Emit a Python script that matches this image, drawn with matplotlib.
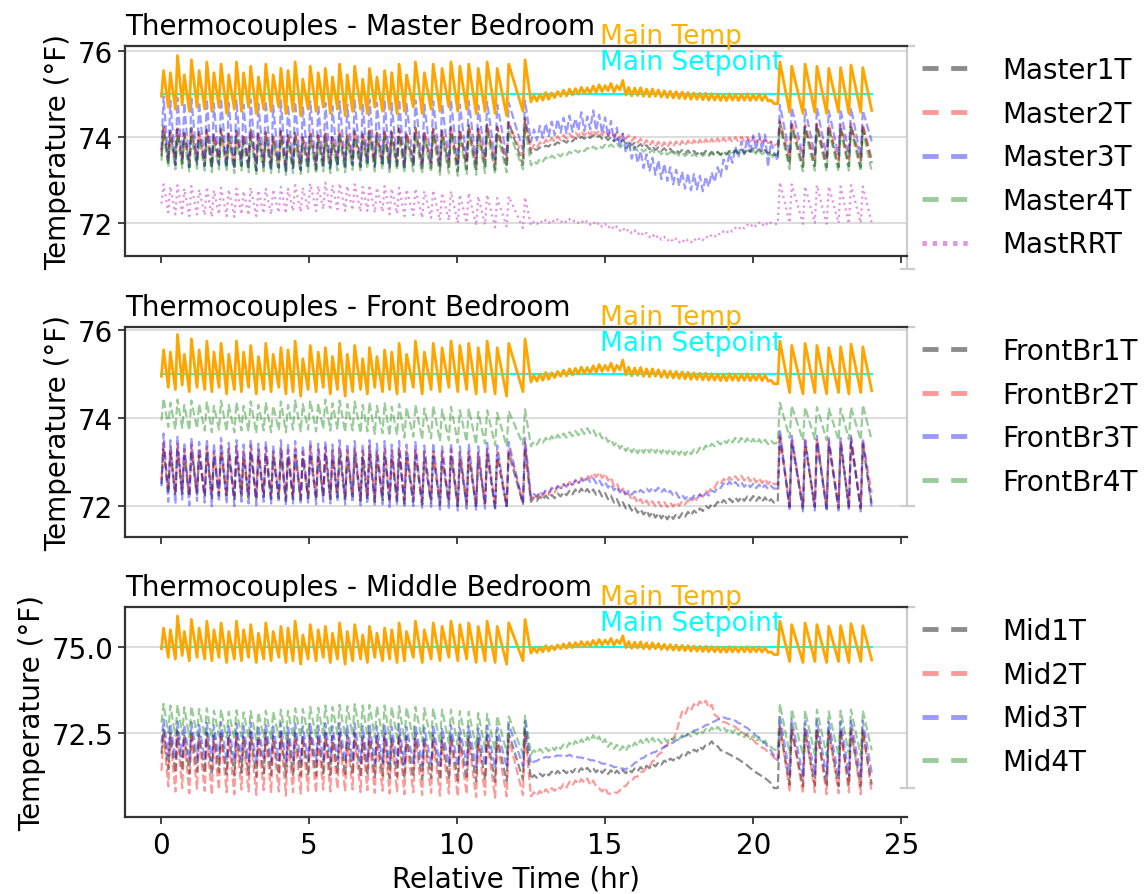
import numpy as np
import matplotlib
matplotlib.use("Agg")
import matplotlib.pyplot as plt
from matplotlib.lines import Line2D
from matplotlib.transforms import blended_transform_factory

# ---------------------------------------------------------------------------
# Sampling clock
# ---------------------------------------------------------------------------
# Peak times of the thermostat cycles in the first cycling period (hr)
a_peak_hours = [0.10, 0.33, 0.57, 0.80, 1.04, 1.30, 1.56, 1.80, 2.04, 2.30,
                2.56, 2.80, 3.04, 3.30, 3.55, 3.80, 4.06, 4.30, 4.54, 4.80,
                5.05, 5.32, 5.56, 5.80, 6.04, 6.30, 6.55, 6.82, 7.05, 7.30,
                7.56, 7.80, 8.05, 8.30, 8.60, 8.90, 9.20, 9.50, 9.80, 10.10,
                10.40, 10.72, 11.02, 11.36, 11.75, 12.30]
# Steady period, logged every 0.1 hr
b_hours = np.round(np.arange(12.5, 20.75, 0.1), 2)
# Peak times of the evening cycles (hr) and end of log
c_peak_hours = [20.90, 21.30, 21.75, 22.15, 22.55, 22.95, 23.30, 23.70]
c_end_hour = 24.0
RISE_HR = 0.07  # time from cycle trough to cycle peak

setpoint_f = 75.0

# ---------------------------------------------------------------------------
# Main thermostat temperature (°F)
# ---------------------------------------------------------------------------
main_a_hi = [75.55, 75.50, 75.90, 75.45, 75.80, 75.55, 75.75, 75.50, 75.70, 75.45,
             75.75, 75.50, 75.65, 75.40, 75.70, 75.45, 75.60, 75.55, 75.75, 75.35,
             75.65, 75.50, 75.60, 75.40, 75.70, 75.45, 75.65, 75.35, 75.60, 75.40,
             75.55, 75.50, 75.70, 75.45, 75.75, 75.50, 75.70, 75.60, 75.75, 75.65,
             75.70, 75.60, 75.75, 75.60, 75.70, 75.80]
main_a_lo = [74.95, 74.70, 74.65, 74.75, 74.60, 74.70, 74.65, 74.60, 74.70, 74.55,
             74.65, 74.60, 74.70, 74.55, 74.65, 74.60, 74.70, 74.55, 74.60, 74.50,
             74.65, 74.60, 74.70, 74.55, 74.65, 74.50, 74.60, 74.65, 74.55, 74.70,
             74.60, 74.65, 74.55, 74.60, 74.70, 74.55, 74.65, 74.60, 74.70, 74.60,
             74.65, 74.55, 74.60, 74.55, 74.50, 74.60]
main_b = [74.82, 74.97, 74.84, 75.00, 74.86, 75.04, 74.88, 75.03, 74.92, 75.06,
          74.95, 75.09, 74.96, 75.12, 74.98, 75.13, 75.00, 75.16, 75.01, 75.15,
          75.02, 75.19, 75.04, 75.22, 75.06, 75.20, 75.08, 75.25, 75.05, 75.20,
          75.10, 75.32, 74.98, 75.16, 74.96, 75.14, 74.97, 75.15, 74.95, 75.12,
          74.94, 75.12, 74.95, 75.10, 74.93, 75.08, 74.92, 75.07, 74.91, 75.06,
          74.90, 75.05, 74.89, 75.04, 74.88, 75.03, 74.88, 75.02, 74.87, 75.02,
          74.86, 75.01, 74.86, 75.00, 74.85, 75.00, 74.85, 75.01, 74.86, 75.00,
          74.85, 75.00, 74.86, 75.01, 74.85, 74.99, 74.86, 75.00, 74.85, 74.98,
          74.84, 74.86, 74.78]
main_c_lo = [74.78, 74.58, 74.55, 74.58, 74.55, 74.58, 74.55, 74.58, 74.62]
main_c_hi = [75.75, 75.65, 75.70, 75.65, 75.60, 75.62, 75.68, 75.62]

# ---------------------------------------------------------------------------
# Master bedroom thermocouples (°F)
# ---------------------------------------------------------------------------
master1_a_hi = [74.25, 74.15, 74.20, 74.10, 74.22, 74.12, 74.18, 74.08, 74.20, 74.10,
                74.15, 74.05, 74.18, 74.08, 74.12, 74.02, 74.15, 74.05, 74.10, 74.00,
                74.12, 74.04, 74.08, 74.00, 74.12, 74.05, 74.15, 74.08, 74.18, 74.10,
                74.15, 74.12, 74.20, 74.10, 74.22, 74.12, 74.20, 74.15, 74.25, 74.18,
                74.28, 74.20, 74.30, 74.25, 74.35, 74.45]
master1_a_lo = [73.55, 73.40, 73.35, 73.38, 73.30, 73.36, 73.32, 73.28, 73.35, 73.30,
                73.25, 73.32, 73.28, 73.22, 73.30, 73.25, 73.28, 73.20, 73.26, 73.22,
                73.28, 73.24, 73.30, 73.26, 73.32, 73.28, 73.34, 73.30, 73.36, 73.30,
                73.34, 73.28, 73.32, 73.26, 73.30, 73.24, 73.28, 73.22, 73.26, 73.20,
                73.25, 73.22, 73.28, 73.24, 73.30, 73.35]
master1_b = [73.62, 73.72, 73.70, 73.76, 73.75, 73.80, 73.78, 73.86, 73.82, 73.88,
             73.84, 73.92, 73.87, 73.95, 73.90, 73.98, 73.93, 74.01, 73.96, 74.03,
             73.98, 74.05, 73.98, 74.04, 73.96, 74.02, 73.93, 74.00, 73.90, 73.96,
             73.88, 73.93, 73.85, 73.90, 73.81, 73.87, 73.78, 73.84, 73.75, 73.81,
             73.72, 73.79, 73.70, 73.76, 73.68, 73.74, 73.66, 73.73, 73.64, 73.71,
             73.63, 73.70, 73.62, 73.69, 73.61, 73.68, 73.60, 73.67, 73.60, 73.68,
             73.59, 73.66, 73.58, 73.66, 73.59, 73.67, 73.60, 73.68, 73.62, 73.70,
             73.63, 73.71, 73.64, 73.73, 73.66, 73.74, 73.65, 73.72, 73.64, 73.70,
             73.62, 73.66, 73.58]
master1_c_lo = [73.60, 73.35, 73.30, 73.32, 73.30, 73.30, 73.32, 73.30, 73.40]
master1_c_hi = [74.35, 74.30, 74.25, 74.28, 74.25, 74.25, 74.28, 74.25]

master2_a_hi = [74.20, 74.12, 74.18, 74.08, 74.15, 74.10, 74.16, 74.05, 74.14, 74.08,
                74.12, 74.04, 74.15, 74.06, 74.10, 74.02, 74.12, 74.05, 74.08, 74.00,
                74.10, 74.04, 74.08, 74.02, 74.12, 74.06, 74.14, 74.08, 74.16, 74.10,
                74.14, 74.10, 74.18, 74.10, 74.20, 74.12, 74.18, 74.14, 74.22, 74.16,
                74.25, 74.18, 74.28, 74.22, 74.32, 74.40]
master2_a_lo = [73.65, 73.52, 73.48, 73.50, 73.45, 73.50, 73.46, 73.42, 73.48, 73.44,
                73.40, 73.46, 73.42, 73.38, 73.44, 73.40, 73.42, 73.36, 73.40, 73.38,
                73.42, 73.38, 73.44, 73.40, 73.46, 73.42, 73.48, 73.44, 73.50, 73.44,
                73.48, 73.42, 73.46, 73.40, 73.44, 73.38, 73.42, 73.36, 73.40, 73.35,
                73.40, 73.38, 73.42, 73.40, 73.45, 73.55]
master2_b = [73.70, 73.82, 73.75, 73.88, 73.81, 73.94, 73.86, 73.98, 73.89, 74.02,
             73.93, 74.05, 73.96, 74.08, 73.99, 74.11, 74.02, 74.14, 74.03, 74.15,
             74.05, 74.17, 74.06, 74.16, 74.04, 74.15, 74.03, 74.13, 74.01, 74.11,
             73.98, 74.08, 73.95, 74.04, 73.91, 74.00, 73.87, 73.96, 73.83, 73.93,
             73.80, 73.91, 73.78, 73.89, 73.77, 73.88, 73.76, 73.89, 73.78, 73.90,
             73.79, 73.91, 73.80, 73.92, 73.81, 73.93, 73.82, 73.94, 73.83, 73.95,
             73.84, 73.96, 73.85, 73.97, 73.86, 73.98, 73.87, 73.99, 73.88, 74.00,
             73.89, 74.01, 73.90, 74.00, 73.89, 73.99, 73.88, 73.98, 73.87, 73.97,
             73.86, 73.88, 73.80]
master2_c_lo = [73.85, 73.50, 73.45, 73.48, 73.45, 73.45, 73.48, 73.45, 73.50]
master2_c_hi = [74.40, 74.35, 74.30, 74.32, 74.30, 74.30, 74.32, 74.30]

master3_a_hi = [74.95, 74.85, 74.92, 74.80, 74.90, 74.82, 74.88, 74.78, 74.90, 74.80,
                74.86, 74.76, 74.88, 74.78, 74.84, 74.74, 74.86, 74.76, 74.82, 74.72,
                74.84, 74.76, 74.80, 74.72, 74.84, 74.76, 74.86, 74.78, 74.88, 74.80,
                74.86, 74.80, 74.88, 74.78, 74.86, 74.76, 74.84, 74.78, 74.86, 74.76,
                74.84, 74.74, 74.82, 74.76, 74.80, 74.85]
master3_a_lo = [73.70, 73.45, 73.35, 73.42, 73.30, 73.40, 73.34, 73.28, 73.38, 73.30,
                73.26, 73.36, 73.30, 73.22, 73.34, 73.26, 73.30, 73.20, 73.28, 73.24,
                73.32, 73.26, 73.34, 73.28, 73.36, 73.30, 73.38, 73.32, 73.40, 73.34,
                73.38, 73.32, 73.36, 73.30, 73.40, 73.34, 73.42, 73.36, 73.44, 73.38,
                73.46, 73.42, 73.50, 73.48, 73.55, 73.70]
master3_b = [73.88, 74.18, 73.92, 74.26, 73.98, 74.32, 74.02, 74.36, 74.05, 74.42,
             74.10, 74.45, 74.08, 74.50, 74.12, 74.44, 74.15, 74.58, 74.14, 74.48,
             74.18, 74.62, 74.15, 74.52, 74.08, 74.46, 74.00, 74.38, 73.92, 74.22,
             73.76, 74.08, 73.64, 73.92, 73.50, 73.78, 73.40, 73.68, 73.28, 73.60,
             73.20, 73.52, 73.12, 73.46, 73.02, 73.38, 72.98, 73.30, 72.90, 73.24,
             72.86, 73.20, 72.80, 73.16, 72.76, 73.14, 72.78, 73.10, 72.74, 73.08,
             72.84, 73.18, 72.95, 73.30, 73.08, 73.48, 73.25, 73.62, 73.40, 73.78,
             73.52, 73.90, 73.60, 73.98, 73.66, 74.04, 73.70, 74.08, 73.68, 74.06,
             73.30, 73.90, 73.65]
master3_c_lo = [73.45, 73.60, 73.55, 73.60, 73.55, 73.58, 73.60, 73.55, 73.90]
master3_c_hi = [74.75, 74.70, 74.65, 74.68, 74.62, 74.65, 74.68, 74.62]

master4_a_hi = [74.05, 73.98, 74.02, 73.92, 74.00, 73.94, 73.98, 73.90, 74.00, 73.92,
                73.96, 73.88, 73.98, 73.90, 73.94, 73.86, 73.96, 73.88, 73.92, 73.84,
                73.94, 73.88, 73.92, 73.86, 73.96, 73.90, 73.98, 73.92, 74.00, 73.94,
                73.98, 73.94, 74.02, 73.94, 74.04, 73.96, 74.04, 73.98, 74.08, 74.00,
                74.10, 74.02, 74.12, 74.06, 74.15, 74.25]
master4_a_lo = [73.45, 73.30, 73.25, 73.28, 73.20, 73.26, 73.22, 73.18, 73.25, 73.20,
                73.16, 73.22, 73.18, 73.14, 73.20, 73.16, 73.18, 73.12, 73.16, 73.14,
                73.18, 73.14, 73.20, 73.16, 73.22, 73.18, 73.24, 73.20, 73.26, 73.20,
                73.24, 73.18, 73.22, 73.16, 73.20, 73.14, 73.18, 73.12, 73.16, 73.10,
                73.14, 73.12, 73.16, 73.14, 73.18, 73.25]
master4_b = [73.34, 73.44, 73.38, 73.49, 73.43, 73.53, 73.47, 73.57, 73.51, 73.60,
             73.55, 73.63, 73.58, 73.66, 73.61, 73.69, 73.64, 73.72, 73.67, 73.75,
             73.70, 73.78, 73.72, 73.80, 73.74, 73.82, 73.76, 73.83, 73.77, 73.84,
             73.76, 73.82, 73.74, 73.80, 73.71, 73.77, 73.68, 73.74, 73.66, 73.72,
             73.64, 73.70, 73.62, 73.68, 73.60, 73.67, 73.59, 73.65, 73.58, 73.64,
             73.57, 73.63, 73.56, 73.62, 73.55, 73.61, 73.55, 73.62, 73.56, 73.62,
             73.56, 73.63, 73.57, 73.64, 73.58, 73.65, 73.59, 73.66, 73.60, 73.67,
             73.61, 73.68, 73.62, 73.69, 73.62, 73.69, 73.61, 73.68, 73.60, 73.66,
             73.58, 73.59, 73.52]
master4_c_lo = [73.55, 73.25, 73.20, 73.22, 73.20, 73.20, 73.22, 73.20, 73.20]
master4_c_hi = [74.25, 74.20, 74.15, 74.18, 74.15, 74.15, 74.18, 74.15]

mastrr_a_hi = [72.90, 72.85, 72.88, 72.80, 72.86, 72.78, 72.84, 72.76, 72.82, 72.78,
               72.80, 72.74, 72.82, 72.76, 72.80, 72.78, 72.84, 72.80, 72.88, 72.82,
               72.92, 72.86, 72.94, 72.88, 72.92, 72.86, 72.90, 72.84, 72.88, 72.82,
               72.86, 72.80, 72.82, 72.78, 72.80, 72.74, 72.76, 72.70, 72.74, 72.66,
               72.70, 72.62, 72.66, 72.58, 72.62, 72.60]
mastrr_a_lo = [72.45, 72.25, 72.20, 72.22, 72.16, 72.20, 72.18, 72.14, 72.20, 72.16,
               72.14, 72.20, 72.18, 72.16, 72.22, 72.20, 72.24, 72.22, 72.28, 72.26,
               72.30, 72.28, 72.32, 72.30, 72.32, 72.28, 72.30, 72.26, 72.28, 72.24,
               72.26, 72.20, 72.22, 72.16, 72.18, 72.12, 72.12, 72.06, 72.06, 72.00,
               72.00, 71.94, 71.96, 71.90, 71.92, 71.88]
mastrr_b = [71.94, 72.03, 71.97, 72.06, 71.99, 72.07, 72.00, 72.08, 72.01, 72.09,
            72.02, 72.08, 72.01, 72.09, 72.02, 72.07, 72.00, 72.06, 71.98, 72.05,
            71.96, 72.03, 71.94, 72.01, 71.91, 71.98, 71.88, 71.95, 71.85, 71.92,
            71.82, 71.89, 71.79, 71.86, 71.76, 71.83, 71.73, 71.80, 71.70, 71.77,
            71.67, 71.74, 71.64, 71.71, 71.61, 71.68, 71.58, 71.65, 71.56, 71.64,
            71.55, 71.62, 71.54, 71.62, 71.55, 71.64, 71.57, 71.66, 71.60, 71.69,
            71.64, 71.73, 71.68, 71.77, 71.72, 71.81, 71.76, 71.85, 71.80, 71.89,
            71.84, 71.93, 71.87, 71.96, 71.90, 71.99, 71.92, 72.01, 71.93, 72.02,
            71.94, 72.01, 71.97]
mastrr_c_lo = [71.98, 72.00, 71.98, 72.00, 71.98, 72.00, 71.98, 72.00, 72.00]
mastrr_c_hi = [72.95, 72.90, 72.85, 72.88, 72.85, 72.85, 72.88, 72.85]

# ---------------------------------------------------------------------------
# Front bedroom thermocouples (°F)
# ---------------------------------------------------------------------------
front1_a_hi = [73.30, 73.20, 73.25, 73.15, 73.22, 73.14, 73.20, 73.12, 73.22, 73.14,
               73.18, 73.10, 73.20, 73.12, 73.16, 73.10, 73.18, 73.12, 73.16, 73.08,
               73.18, 73.12, 73.16, 73.10, 73.18, 73.12, 73.16, 73.10, 73.18, 73.12,
               73.16, 73.10, 73.18, 73.10, 73.16, 73.08, 73.14, 73.08, 73.14, 73.06,
               73.12, 73.08, 73.16, 73.10, 73.20, 73.30]
front1_a_lo = [72.50, 72.30, 72.25, 72.28, 72.22, 72.26, 72.22, 72.18, 72.24, 72.20,
               72.16, 72.22, 72.18, 72.14, 72.20, 72.16, 72.18, 72.12, 72.16, 72.14,
               72.18, 72.14, 72.20, 72.16, 72.20, 72.14, 72.18, 72.12, 72.16, 72.10,
               72.14, 72.08, 72.12, 72.06, 72.10, 72.04, 72.08, 72.02, 72.06, 72.00,
               72.04, 71.98, 72.02, 71.96, 72.00, 72.05]
front1_b = [72.10, 72.19, 72.12, 72.22, 72.14, 72.24, 72.16, 72.26, 72.18, 72.29,
            72.22, 72.32, 72.25, 72.35, 72.27, 72.38, 72.29, 72.40, 72.30, 72.39,
            72.29, 72.38, 72.26, 72.35, 72.22, 72.30, 72.16, 72.24, 72.08, 72.16,
            72.01, 72.09, 71.95, 72.03, 71.90, 71.98, 71.85, 71.93, 71.81, 71.90,
            71.77, 71.87, 71.74, 71.84, 71.72, 71.82, 71.70, 71.81, 71.71, 71.82,
            71.73, 71.84, 71.76, 71.87, 71.79, 71.90, 71.84, 71.95, 71.89, 72.00,
            71.95, 72.05, 72.00, 72.10, 72.04, 72.14, 72.07, 72.17, 72.09, 72.19,
            72.11, 72.21, 72.12, 72.22, 72.13, 72.23, 72.12, 72.21, 72.10, 72.20,
            72.09, 72.16, 72.08]
front1_c_lo = [72.10, 71.98, 71.95, 71.98, 71.95, 71.96, 71.98, 71.95, 72.05]
front1_c_hi = [73.55, 73.45, 73.40, 73.45, 73.40, 73.40, 73.45, 73.40]

front2_a_hi = [73.45, 73.35, 73.42, 73.30, 73.40, 73.32, 73.38, 73.28, 73.40, 73.30,
               73.36, 73.26, 73.38, 73.28, 73.34, 73.24, 73.36, 73.28, 73.34, 73.24,
               73.36, 73.28, 73.34, 73.26, 73.36, 73.28, 73.34, 73.26, 73.36, 73.28,
               73.34, 73.26, 73.34, 73.26, 73.32, 73.24, 73.30, 73.24, 73.30, 73.22,
               73.28, 73.22, 73.30, 73.24, 73.32, 73.45]
front2_a_lo = [72.60, 72.40, 72.32, 72.36, 72.28, 72.34, 72.30, 72.26, 72.32, 72.28,
               72.24, 72.30, 72.26, 72.22, 72.28, 72.24, 72.26, 72.20, 72.24, 72.22,
               72.26, 72.22, 72.28, 72.24, 72.28, 72.22, 72.26, 72.20, 72.24, 72.18,
               72.22, 72.16, 72.20, 72.14, 72.18, 72.12, 72.16, 72.10, 72.12, 72.06,
               72.10, 72.04, 72.06, 72.02, 72.04, 72.10]
front2_b = [72.16, 72.27, 72.19, 72.31, 72.22, 72.35, 72.26, 72.39, 72.31, 72.44,
            72.38, 72.50, 72.43, 72.55, 72.48, 72.60, 72.53, 72.65, 72.58, 72.70,
            72.63, 72.76, 72.66, 72.77, 72.64, 72.74, 72.58, 72.66, 72.46, 72.52,
            72.33, 72.40, 72.22, 72.29, 72.13, 72.21, 72.07, 72.16, 72.03, 72.13,
            72.01, 72.11, 72.00, 72.10, 71.99, 72.09, 71.98, 72.08, 71.99, 72.09,
            72.01, 72.11, 72.04, 72.14, 72.08, 72.19, 72.14, 72.26, 72.21, 72.34,
            72.31, 72.44, 72.42, 72.55, 72.50, 72.62, 72.55, 72.66, 72.58, 72.68,
            72.59, 72.69, 72.58, 72.68, 72.56, 72.66, 72.54, 72.64, 72.52, 72.62,
            72.50, 72.58, 72.50]
front2_c_lo = [72.50, 72.00, 71.98, 72.00, 71.98, 72.00, 72.00, 71.98, 72.30]
front2_c_hi = [73.65, 73.55, 73.50, 73.55, 73.50, 73.50, 73.55, 73.50]

front3_a_hi = [73.65, 73.50, 73.58, 73.45, 73.55, 73.46, 73.52, 73.42, 73.55, 73.44,
               73.50, 73.40, 73.52, 73.42, 73.48, 73.38, 73.50, 73.42, 73.48, 73.38,
               73.50, 73.42, 73.48, 73.40, 73.50, 73.42, 73.48, 73.40, 73.50, 73.42,
               73.48, 73.40, 73.48, 73.40, 73.46, 73.38, 73.44, 73.38, 73.44, 73.36,
               73.42, 73.36, 73.44, 73.38, 73.46, 73.55]
front3_a_lo = [72.45, 72.10, 72.05, 72.15, 72.02, 72.12, 72.08, 72.00, 72.10, 72.05,
               72.00, 72.10, 72.06, 72.02, 72.10, 72.06, 72.08, 72.02, 72.06, 72.04,
               72.08, 72.04, 72.10, 72.06, 72.10, 72.04, 72.08, 72.02, 72.06, 72.00,
               72.04, 71.98, 72.02, 71.96, 72.00, 71.94, 71.98, 71.92, 71.96, 71.90,
               71.94, 71.90, 71.94, 71.90, 71.95, 72.05]
front3_b = [72.18, 72.28, 72.22, 72.33, 72.27, 72.37, 72.31, 72.42, 72.36, 72.46,
            72.41, 72.50, 72.44, 72.54, 72.48, 72.58, 72.51, 72.61, 72.54, 72.64,
            72.55, 72.64, 72.52, 72.60, 72.47, 72.55, 72.42, 72.50, 72.36, 72.44,
            72.31, 72.39, 72.27, 72.35, 72.26, 72.34, 72.28, 72.37, 72.31, 72.40,
            72.33, 72.42, 72.34, 72.42, 72.32, 72.39, 72.28, 72.35, 72.24, 72.31,
            72.19, 72.26, 72.16, 72.24, 72.15, 72.24, 72.17, 72.27, 72.20, 72.30,
            72.24, 72.35, 72.32, 72.43, 72.41, 72.52, 72.46, 72.56, 72.47, 72.55,
            72.46, 72.54, 72.44, 72.52, 72.43, 72.51, 72.41, 72.49, 72.40, 72.48,
            72.39, 72.46, 72.40]
front3_c_lo = [72.40, 71.90, 71.88, 71.90, 71.88, 71.90, 71.90, 71.88, 71.95]
front3_c_hi = [73.75, 73.60, 73.55, 73.60, 73.55, 73.55, 73.60, 73.55]

front4_a_hi = [74.45, 74.35, 74.42, 74.30, 74.40, 74.32, 74.38, 74.28, 74.40, 74.30,
               74.36, 74.28, 74.38, 74.30, 74.36, 74.28, 74.38, 74.30, 74.40, 74.32,
               74.40, 74.34, 74.42, 74.34, 74.40, 74.32, 74.38, 74.30, 74.36, 74.28,
               74.34, 74.26, 74.32, 74.24, 74.30, 74.22, 74.28, 74.20, 74.26, 74.18,
               74.22, 74.14, 74.18, 74.12, 74.16, 74.20]
front4_a_lo = [73.95, 73.80, 73.74, 73.78, 73.72, 73.76, 73.72, 73.68, 73.74, 73.70,
               73.68, 73.72, 73.70, 73.66, 73.72, 73.68, 73.72, 73.68, 73.74, 73.70,
               73.74, 73.70, 73.76, 73.72, 73.74, 73.68, 73.72, 73.66, 73.70, 73.64,
               73.66, 73.60, 73.62, 73.56, 73.58, 73.52, 73.54, 73.48, 73.50, 73.44,
               73.46, 73.40, 73.42, 73.38, 73.36, 73.40]
front4_b = [73.36, 73.47, 73.40, 73.52, 73.44, 73.55, 73.47, 73.59, 73.50, 73.62,
            73.54, 73.65, 73.56, 73.68, 73.59, 73.71, 73.61, 73.75, 73.64, 73.77,
            73.66, 73.74, 73.60, 73.68, 73.54, 73.60, 73.46, 73.52, 73.38, 73.45,
            73.31, 73.39, 73.25, 73.35, 73.22, 73.33, 73.20, 73.32, 73.21, 73.33,
            73.22, 73.33, 73.21, 73.32, 73.20, 73.31, 73.19, 73.30, 73.18, 73.29,
            73.17, 73.28, 73.16, 73.27, 73.18, 73.29, 73.21, 73.33, 73.26, 73.38,
            73.31, 73.42, 73.36, 73.47, 73.40, 73.50, 73.43, 73.53, 73.45, 73.55,
            73.45, 73.55, 73.44, 73.54, 73.43, 73.53, 73.42, 73.52, 73.42, 73.51,
            73.41, 73.49, 73.42]
front4_c_lo = [73.45, 73.55, 73.50, 73.52, 73.50, 73.50, 73.52, 73.50, 73.50]
front4_c_hi = [74.35, 74.28, 74.25, 74.25, 74.22, 74.22, 74.25, 74.30]

# ---------------------------------------------------------------------------
# Middle bedroom thermocouples (°F)
# ---------------------------------------------------------------------------
mid1_a_hi = [72.60, 72.50, 72.56, 72.46, 72.54, 72.46, 72.52, 72.44, 72.54, 72.46,
             72.50, 72.42, 72.52, 72.44, 72.50, 72.42, 72.52, 72.44, 72.50, 72.42,
             72.52, 72.44, 72.50, 72.42, 72.52, 72.44, 72.50, 72.42, 72.50, 72.42,
             72.48, 72.40, 72.48, 72.40, 72.46, 72.38, 72.44, 72.38, 72.44, 72.36,
             72.42, 72.36, 72.44, 72.38, 72.50, 72.60]
mid1_a_lo = [71.90, 71.45, 71.35, 71.40, 71.32, 71.38, 71.34, 71.28, 71.36, 71.30,
             71.26, 71.34, 71.30, 71.24, 71.32, 71.28, 71.30, 71.24, 71.28, 71.26,
             71.30, 71.26, 71.32, 71.28, 71.32, 71.26, 71.30, 71.24, 71.28, 71.22,
             71.26, 71.20, 71.24, 71.18, 71.22, 71.16, 71.20, 71.14, 71.18, 71.12,
             71.16, 71.10, 71.14, 71.08, 71.10, 71.15]
mid1_b = [71.16, 71.28, 71.20, 71.32, 71.24, 71.35, 71.27, 71.38, 71.29, 71.40,
          71.31, 71.42, 71.33, 71.44, 71.35, 71.46, 71.37, 71.48, 71.39, 71.49,
          71.38, 71.48, 71.36, 71.46, 71.34, 71.44, 71.31, 71.42, 71.30, 71.41,
          71.31, 71.42, 71.33, 71.44, 71.36, 71.47, 71.39, 71.51, 71.43, 71.55,
          71.48, 71.60, 71.53, 71.65, 71.58, 71.70, 71.64, 71.76, 71.70, 71.82,
          71.76, 71.88, 71.82, 71.95, 71.90, 72.02, 71.96, 72.10, 72.03, 72.17,
          72.16, 72.26, 72.13, 72.12, 72.00, 71.98, 71.92, 71.88, 71.83, 71.78,
          71.74, 71.68, 71.62, 71.56, 71.48, 71.42, 71.35, 71.30, 71.24, 71.19,
          71.12, 71.04, 70.90]
mid1_c_lo = [70.90, 71.00, 70.95, 70.98, 70.95, 70.95, 70.98, 70.95, 71.00]
mid1_c_hi = [72.65, 72.60, 72.55, 72.58, 72.55, 72.55, 72.58, 72.55]

mid2_a_hi = [72.45, 72.38, 72.42, 72.34, 72.40, 72.34, 72.38, 72.30, 72.40, 72.32,
             72.36, 72.28, 72.38, 72.30, 72.36, 72.28, 72.38, 72.30, 72.36, 72.28,
             72.38, 72.30, 72.36, 72.28, 72.38, 72.30, 72.36, 72.28, 72.36, 72.28,
             72.34, 72.26, 72.34, 72.26, 72.32, 72.24, 72.30, 72.24, 72.30, 72.22,
             72.28, 72.22, 72.30, 72.24, 72.36, 72.50]
mid2_a_lo = [71.40, 70.95, 70.80, 70.90, 70.75, 70.88, 70.82, 70.70, 70.85, 70.78,
             70.72, 70.86, 70.80, 70.70, 70.84, 70.76, 70.80, 70.68, 70.78, 70.74,
             70.82, 70.76, 70.86, 70.80, 70.88, 70.80, 70.86, 70.78, 70.84, 70.76,
             70.82, 70.74, 70.80, 70.72, 70.78, 70.70, 70.76, 70.68, 70.74, 70.66,
             70.72, 70.64, 70.70, 70.62, 70.66, 70.70]
mid2_b = [70.66, 70.78, 70.68, 70.82, 70.72, 70.87, 70.77, 70.90, 70.82, 70.94,
          70.88, 71.02, 70.92, 71.08, 70.98, 71.12, 71.02, 71.16, 71.06, 71.18,
          71.00, 71.12, 70.94, 70.90, 70.80, 70.92, 70.74, 70.74, 70.78, 70.76,
          70.83, 70.94, 70.96, 71.08, 71.10, 71.22, 71.24, 71.36, 71.38, 71.50,
          71.53, 71.68, 71.72, 71.88, 71.93, 72.10, 72.16, 72.30, 72.34, 72.50,
          72.83, 73.12, 73.03, 73.24, 73.16, 73.34, 73.26, 73.42, 73.33, 73.44,
          73.23, 73.32, 73.03, 72.97, 72.86, 72.82, 72.80, 72.74, 72.72, 72.68,
          72.60, 72.54, 72.48, 72.42, 72.34, 72.30, 72.20, 72.16, 72.08, 72.04,
          71.94, 71.90, 71.78]
mid2_c_lo = [71.70, 70.80, 70.75, 70.78, 70.72, 70.75, 70.78, 70.72, 70.75]
mid2_c_hi = [72.75, 72.65, 72.60, 72.62, 72.58, 72.60, 72.62, 72.58]

mid3_a_hi = [72.90, 72.78, 72.84, 72.74, 72.82, 72.74, 72.80, 72.72, 72.82, 72.74,
             72.78, 72.70, 72.80, 72.72, 72.78, 72.70, 72.80, 72.72, 72.78, 72.70,
             72.80, 72.72, 72.78, 72.70, 72.80, 72.72, 72.78, 72.70, 72.78, 72.70,
             72.76, 72.68, 72.76, 72.68, 72.74, 72.66, 72.72, 72.66, 72.72, 72.64,
             72.70, 72.64, 72.72, 72.66, 72.76, 72.85]
mid3_a_lo = [72.20, 71.85, 71.75, 71.80, 71.72, 71.78, 71.74, 71.68, 71.76, 71.70,
             71.66, 71.74, 71.70, 71.64, 71.72, 71.68, 71.70, 71.64, 71.68, 71.66,
             71.70, 71.66, 71.72, 71.68, 71.72, 71.66, 71.70, 71.64, 71.68, 71.62,
             71.66, 71.60, 71.64, 71.58, 71.62, 71.56, 71.60, 71.54, 71.58, 71.52,
             71.56, 71.50, 71.54, 71.48, 71.50, 71.55]
mid3_b = [71.60, 71.67, 71.69, 71.75, 71.76, 71.81, 71.79, 71.83, 71.82, 71.85,
          71.84, 71.87, 71.83, 71.87, 71.82, 71.83, 71.79, 71.79, 71.76, 71.76,
          71.71, 71.71, 71.66, 71.66, 71.61, 71.61, 71.56, 71.56, 71.51, 71.51,
          71.47, 71.47, 71.44, 71.51, 71.54, 71.63, 71.67, 71.75, 71.78, 71.85,
          71.87, 71.93, 71.95, 72.01, 72.04, 72.10, 72.13, 72.19, 72.22, 72.29,
          72.31, 72.38, 72.41, 72.47, 72.50, 72.57, 72.59, 72.65, 72.67, 72.73,
          72.75, 72.81, 72.84, 72.89, 72.91, 72.96, 72.92, 72.91, 72.87, 72.86,
          72.79, 72.77, 72.69, 72.65, 72.57, 72.51, 72.42, 72.37, 72.27, 72.21,
          72.09, 71.99, 71.85]
mid3_c_lo = [71.70, 71.30, 71.25, 71.28, 71.25, 71.25, 71.28, 71.25, 71.35]
mid3_c_hi = [73.00, 72.90, 72.85, 72.88, 72.82, 72.85, 72.88, 72.85]

mid4_a_hi = [73.35, 73.30, 73.32, 73.25, 73.28, 73.20, 73.22, 73.15, 73.18, 73.12,
             73.16, 73.10, 73.14, 73.10, 73.15, 73.12, 73.18, 73.15, 73.22, 73.20,
             73.26, 73.24, 73.30, 73.26, 73.32, 73.28, 73.34, 73.30, 73.32, 73.28,
             73.30, 73.26, 73.28, 73.24, 73.26, 73.22, 73.22, 73.18, 73.18, 73.14,
             73.12, 73.08, 73.06, 73.00, 72.98, 73.00]
mid4_a_lo = [72.80, 72.50, 72.42, 72.46, 72.38, 72.44, 72.40, 72.34, 72.42, 72.36,
             72.32, 72.40, 72.36, 72.30, 72.38, 72.34, 72.38, 72.32, 72.38, 72.36,
             72.42, 72.38, 72.44, 72.40, 72.46, 72.40, 72.44, 72.38, 72.42, 72.36,
             72.40, 72.34, 72.36, 72.30, 72.32, 72.26, 72.26, 72.20, 72.20, 72.14,
             72.12, 72.06, 72.04, 71.98, 71.94, 71.90]
mid4_b = [71.88, 72.00, 71.91, 72.04, 71.94, 72.07, 71.97, 72.10, 72.00, 72.14,
          72.04, 72.17, 72.08, 72.22, 72.12, 72.27, 72.16, 72.32, 72.20, 72.38,
          72.26, 72.44, 72.28, 72.40, 72.20, 72.32, 72.10, 72.22, 72.04, 72.16,
          72.00, 72.12, 71.98, 72.14, 72.06, 72.22, 72.13, 72.30, 72.18, 72.34,
          72.20, 72.36, 72.22, 72.32, 72.20, 72.34, 72.24, 72.38, 72.28, 72.40,
          72.32, 72.44, 72.36, 72.48, 72.40, 72.54, 72.46, 72.58, 72.50, 72.62,
          72.54, 72.66, 72.56, 72.68, 72.58, 72.67, 72.54, 72.64, 72.50, 72.60,
          72.44, 72.54, 72.38, 72.48, 72.32, 72.42, 72.26, 72.36, 72.18, 72.28,
          72.12, 72.10, 72.02]
mid4_c_lo = [72.00, 71.90, 71.85, 71.88, 71.85, 71.85, 71.88, 71.85, 72.00]
mid4_c_hi = [73.35, 73.20, 73.15, 73.18, 73.12, 73.15, 73.18, 73.15]


def build(a_lo, a_hi, b_vals, c_lo, c_hi):
    """Join the three logging periods into one time/value pair."""
    t, v = [], []
    for p, lo, hi in zip(a_peak_hours, a_lo, a_hi):
        t += [p - RISE_HR, p]
        v += [lo, hi]
    n = min(len(b_hours), len(b_vals))
    t += list(b_hours[:n])
    v += list(b_vals[:n])
    for p, lo, hi in zip(c_peak_hours, c_lo, c_hi):
        t += [p - RISE_HR, p]
        v += [lo, hi]
    t.append(c_end_hour)
    v.append(c_lo[-1])
    return np.array(t), np.array(v)


main_t, main_v = build(main_a_lo, main_a_hi, main_b, main_c_lo, main_c_hi)

GRAY, RED, BLUE, GREEN, VIOLET = "black", "red", "blue", "green", "orchid"

panels = [
    dict(title="Thermocouples - Master Bedroom",
         ylim=(71.23, 76.12), yticks=[72, 74, 76], ylabels=["72", "74", "76"],
         bar=(70.93, 76.12),
         series=[("Master1T", build(master1_a_lo, master1_a_hi, master1_b, master1_c_lo, master1_c_hi), GRAY, "--"),
                 ("Master2T", build(master2_a_lo, master2_a_hi, master2_b, master2_c_lo, master2_c_hi), RED, "--"),
                 ("Master3T", build(master3_a_lo, master3_a_hi, master3_b, master3_c_lo, master3_c_hi), BLUE, "--"),
                 ("Master4T", build(master4_a_lo, master4_a_hi, master4_b, master4_c_lo, master4_c_hi), GREEN, "--"),
                 ("MastRRT", build(mastrr_a_lo, mastrr_a_hi, mastrr_b, mastrr_c_lo, mastrr_c_hi), VIOLET, ":")]),
    dict(title="Thermocouples - Front Bedroom",
         ylim=(71.30, 76.07), yticks=[72, 74, 76], ylabels=["72", "74", "76"],
         bar=(72.0, 76.07),
         series=[("FrontBr1T", build(front1_a_lo, front1_a_hi, front1_b, front1_c_lo, front1_c_hi), GRAY, "--"),
                 ("FrontBr2T", build(front2_a_lo, front2_a_hi, front2_b, front2_c_lo, front2_c_hi), RED, "--"),
                 ("FrontBr3T", build(front3_a_lo, front3_a_hi, front3_b, front3_c_lo, front3_c_hi), BLUE, "--"),
                 ("FrontBr4T", build(front4_a_lo, front4_a_hi, front4_b, front4_c_lo, front4_c_hi), GREEN, "--")]),
    dict(title="Thermocouples - Middle Bedroom",
         ylim=(70.06, 76.16), yticks=[72.5, 75.0], ylabels=["72.5", "75.0"],
         bar=(70.90, 76.16),
         series=[("Mid1T", build(mid1_a_lo, mid1_a_hi, mid1_b, mid1_c_lo, mid1_c_hi), GRAY, "--"),
                 ("Mid2T", build(mid2_a_lo, mid2_a_hi, mid2_b, mid2_c_lo, mid2_c_hi), RED, "--"),
                 ("Mid3T", build(mid3_a_lo, mid3_a_hi, mid3_b, mid3_c_lo, mid3_c_hi), BLUE, "--"),
                 ("Mid4T", build(mid4_a_lo, mid4_a_hi, mid4_b, mid4_c_lo, mid4_c_hi), GREEN, "--")]),
]

ALPHA = {GRAY: 0.45, RED: 0.4, BLUE: 0.4, GREEN: 0.4, VIOLET: 0.75}

fig = plt.figure(figsize=(11.47, 8.95), dpi=100)
left, width, height = 0.109, 0.682, 0.2346
bottoms = [0.7128, 0.3989, 0.0860]
spine_col = "#333333"

for i, panel in enumerate(panels):
    ax = fig.add_axes([left, bottoms[i], width, height])
    ax.set_xlim(-1.2, 25.2)
    ax.set_ylim(*panel["ylim"])

    handles = []
    for label, (t, v), color, ls in panel["series"]:
        ax.plot(t, v, color=color, ls=ls, lw=1.6, alpha=ALPHA[color], zorder=2)
        if ls == ":":
            h = Line2D([], [], color=color, lw=3.5, alpha=ALPHA[color], dashes=(0.9, 1.2))
        else:
            h = Line2D([], [], color=color, lw=3.5, alpha=ALPHA[color], dashes=(3.3, 2.6))
        handles.append((h, label))

    ax.plot(main_t, np.full(main_t.shape, setpoint_f), color="cyan", lw=1.6, zorder=3)
    ax.plot(main_t, main_v, color="orange", lw=2.0, zorder=4)

    # axes styling
    ax.yaxis.grid(True, color="#dddddd", lw=1.4)
    ax.set_axisbelow(True)
    for side in ("left", "top", "bottom"):
        ax.spines[side].set_color(spine_col)
        ax.spines[side].set_linewidth(1.6)
    ax.spines["right"].set_visible(False)

    ax.set_yticks(panel["yticks"])
    ax.set_yticklabels(panel["ylabels"])
    ax.set_xticks([0, 5, 10, 15, 20, 25])
    ax.tick_params(axis="both", labelsize=20, length=5, width=1.3, color=spine_col)
    ax.tick_params(axis="x", labelbottom=(i == 2), pad=5)
    ax.set_ylabel("Temperature (°F)", fontsize=20)
    ax.set_title(panel["title"], loc="left", fontsize=20, pad=9)

    # light right-hand range bar with end caps
    tr = blended_transform_factory(ax.transAxes, ax.transData)
    lo, hi = panel["bar"]
    ax.plot([1.0, 1.0], [lo, hi], transform=tr, color="#cccccc", lw=1.6, clip_on=False, zorder=1)
    for yv in (lo, hi):
        ax.plot([0.992, 1.008], [yv, yv], transform=tr, color="#cccccc", lw=1.6, clip_on=False, zorder=1)

    # thermostat legend labels
    ax.annotate("Main Temp", xy=(0.607, 1.0), xycoords="axes fraction",
                xytext=(0, 10), textcoords="offset pixels", color="#ffb300",
                fontsize=19, ha="left", va="center")
    ax.annotate("Main Setpoint", xy=(0.607, 1.0), xycoords="axes fraction",
                xytext=(0, -16), textcoords="offset pixels", color="cyan",
                fontsize=19, ha="left", va="center")

    ax.legend([h for h, _ in handles], [lab for _, lab in handles],
              loc="upper left", bbox_to_anchor=(1.004, 1.005), frameon=False,
              fontsize=20, handlelength=1.7, handletextpad=1.2, labelspacing=0.56,
              borderaxespad=0.0)

    if i == 2:
        ax.set_xlabel("Relative Time (hr)", fontsize=20, labelpad=4)

fig.savefig("out.png", dpi=100)
